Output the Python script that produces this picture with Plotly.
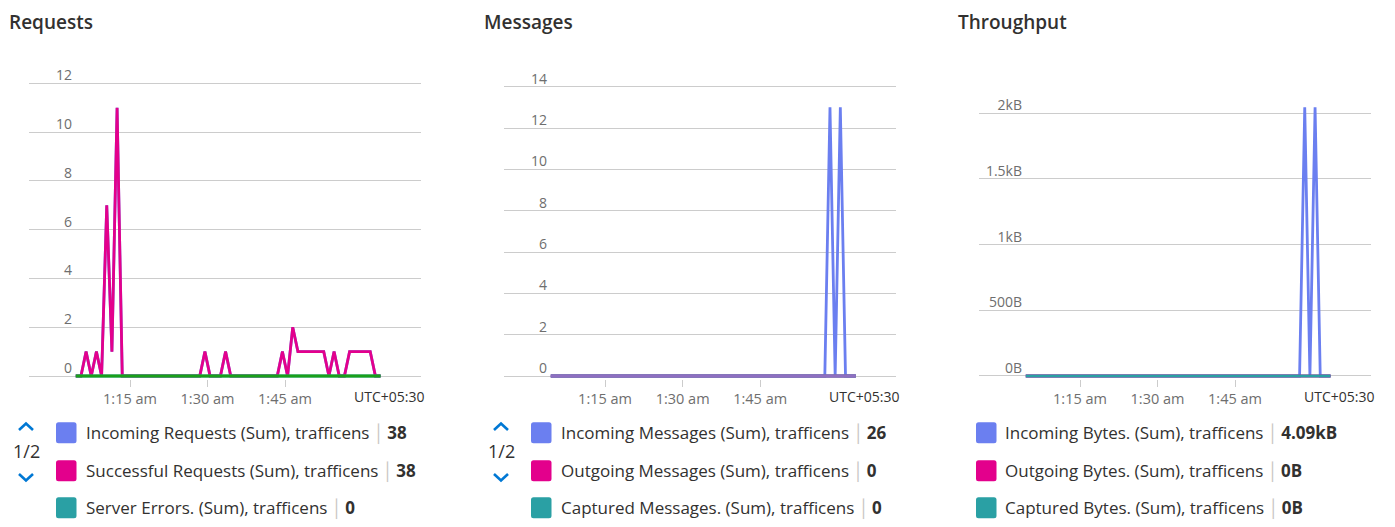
import plotly.graph_objects as go
import pandas as pd

W, H = 1395, 527

# ---------------- data ----------------
times = pd.date_range("2024-01-01 01:04:30", periods=60, freq="1min")

successful_requests = [0, 0, 1, 0, 1, 0, 7, 1, 11, 0,
                       0, 0, 0, 0, 0, 0, 0, 0, 0, 0,
                       0, 0, 0, 0, 0, 1, 0, 0, 0, 1,
                       0, 0, 0, 0, 0, 0, 0, 0, 0, 0,
                       1, 0, 2, 1, 1, 1, 1, 1, 1, 0,
                       1, 0, 0, 1, 1, 1, 1, 1, 0, 0]
incoming_requests = list(successful_requests)
server_errors = [0] * 60
user_errors = [0] * 60

incoming_messages = [0] * 54 + [13, 0, 13, 0, 0, 0]
outgoing_messages = [0] * 60
captured_messages = [0] * 60
other_messages = [0] * 60

incoming_bytes = [0] * 54 + [2045, 0, 2045, 0, 0, 0]
outgoing_bytes = [0] * 60
captured_bytes = [0] * 60

x_tick_times = ["2024-01-01 01:15", "2024-01-01 01:30", "2024-01-01 01:45"]
x_tick_text = ["1:15 am", "1:30 am", "1:45 am"]
x_range = ["2024-01-01 00:55:27", "2024-01-01 02:11:16"]

req_ticks = [0, 2, 4, 6, 8, 10, 12]
msg_ticks = [0, 2, 4, 6, 8, 10, 12, 14]
thr_ticks = [0, 500, 1000, 1500, 2000]
thr_tick_text = ["0B", "500B", "1kB", "1.5kB", "2kB"]

titles = ["Requests", "Messages", "Throughput"]
legend_names = [
    ["Incoming Requests (Sum), trafficens", "Successful Requests (Sum), trafficens", "Server Errors. (Sum), trafficens"],
    ["Incoming Messages (Sum), trafficens", "Outgoing Messages (Sum), trafficens", "Captured Messages. (Sum), trafficens"],
    ["Incoming Bytes. (Sum), trafficens", "Outgoing Bytes. (Sum), trafficens", "Captured Bytes. (Sum), trafficens"],
]
legend_values = [["38", "38", "0"], ["26", "0", "0"], ["4.09kB", "0B", "0B"]]

BLUE = "#6b7ff0"
PINK = "#e3008c"
TEAL = "#2aa0a4"
GREEN = "#1aa01a"
PURPLE = "#8f6fc1"
legend_colors = [BLUE, PINK, TEAL]

FONT = "Open Sans"
TEXT = "#323130"
TICK = "#6e6e6e"
GRID = "#cccccc"

# ---------------- geometry helpers ----------------
def px(x):
    return x / W

def py(y):
    return 1 - y / H

def ydomain(y0, s, lo, hi):
    # y0: pixel of value 0, s: pixels per unit
    return [py(y0 - lo * s), py(y0 - hi * s)]

panels = [
    dict(x0=29, x1=420.7, y0=376, s=(376 - 83.3) / 12, rng=[-0.12, 12.25]),
    dict(x0=504, x1=896, y0=376, s=(376 - 86.7) / 14, rng=[-0.145, 14.25]),
    dict(x0=979, x1=1370.7, y0=376, s=(376 - 113.3) / 2000, rng=[-22, 2120]),
]

fig = go.Figure()

series = [
    [(incoming_requests, BLUE), (successful_requests, PINK), (server_errors, TEAL), (user_errors, GREEN)],
    [(incoming_messages, BLUE), (outgoing_messages, PINK), (captured_messages, TEAL), (other_messages, PURPLE)],
    [(incoming_bytes, BLUE), (outgoing_bytes, PINK), (captured_bytes, TEAL)],
]

for i, lst in enumerate(series):
    suf = "" if i == 0 else str(i + 1)
    for vals, col in lst:
        fig.add_trace(go.Scatter(x=times, y=vals, mode="lines",
                                 line=dict(color=col, width=2.8),
                                 xaxis="x" + suf, yaxis="y" + suf,
                                 showlegend=False, hoverinfo="skip"))

layout_axes = {}
ytick_sets = [(req_ticks, [str(v) for v in req_ticks]),
              (msg_ticks, [str(v) for v in msg_ticks]),
              (thr_ticks, thr_tick_text)]
for i, p in enumerate(panels):
    suf = "" if i == 0 else str(i + 1)
    layout_axes["xaxis" + suf] = dict(
        type="date", domain=[px(p["x0"]), px(p["x1"])], range=x_range,
        anchor="y" + suf, showgrid=False, zeroline=False, showline=False,
        tickvals=x_tick_times, ticktext=x_tick_text,
        ticks="outside", ticklen=7, tickcolor=GRID, tickwidth=1,
        tickfont=dict(family=FONT, size=14.5, color=TICK),
        fixedrange=True, automargin=False,
    )
    tv, tt = ytick_sets[i]
    layout_axes["yaxis" + suf] = dict(
        domain=ydomain(p["y0"], p["s"], p["rng"][0], p["rng"][1]),
        range=p["rng"], anchor="x" + suf,
        tickvals=tv, ticktext=tt, showgrid=True, gridcolor=GRID, gridwidth=1,
        zeroline=False, showline=False, ticks="",
        ticklabelstandoff=-44, ticklabelshift=-8,
        tickfont=dict(family=FONT, size=14, color=TICK),
        fixedrange=True, automargin=False,
    )

annotations = []
shapes = []

title_x = [8, 483, 957]
for i, t in enumerate(titles):
    annotations.append(dict(text=t, x=px(title_x[i] - 1), y=py(22), xref="paper", yref="paper",
                            xanchor="left", yanchor="middle", showarrow=False,
                            font=dict(family=FONT, size=19, color=TEXT, weight=600)))

# UTC labels
for i, p in enumerate(panels):
    annotations.append(dict(text="UTC+05:30", x=px(p["x1"] + 5), y=py(396), xref="paper", yref="paper",
                            xanchor="right", yanchor="middle", showarrow=False,
                            font=dict(family=FONT, size=14, color=TEXT)))

# legends
swatch_x = [56, 531, 976]
text_x = [84, 559, 1003]
row_y = [432.7, 470.7, 507.7]
for i in range(3):
    for r in range(3):
        x0, x1 = swatch_x[i], swatch_x[i] + 20.5
        y0, y1 = row_y[r] - 10.5, row_y[r] + 10.5
        rx, ry = 2.5, 2.5
        d = (f"M {px(x0+rx)},{py(y0)} L {px(x1-rx)},{py(y0)} Q {px(x1)},{py(y0)} {px(x1)},{py(y0+ry)} "
             f"L {px(x1)},{py(y1-ry)} Q {px(x1)},{py(y1)} {px(x1-rx)},{py(y1)} "
             f"L {px(x0+rx)},{py(y1)} Q {px(x0)},{py(y1)} {px(x0)},{py(y1-ry)} "
             f"L {px(x0)},{py(y0+ry)} Q {px(x0)},{py(y0)} {px(x0+rx)},{py(y0)} Z")
        shapes.append(dict(type="path", path=d, xref="paper", yref="paper",
                           fillcolor=legend_colors[r], line=dict(width=0)))
        txt = (f"{legend_names[i][r]}\u2009<span style='color:#c8c6c4'>\u2502</span>\u2009"
               f"<b>{legend_values[i][r]}</b>")
        annotations.append(dict(text=txt, x=px(text_x[i]), y=py(row_y[r]), xref="paper", yref="paper",
                                xanchor="left", yanchor="middle", showarrow=False,
                                font=dict(family=FONT, size=17, color=TEXT)))

# pager ("1/2" with chevrons) for first two panels
pager_x = [26, 501]
for cx in pager_x:
    annotations.append(dict(text="1/2", x=px(cx), y=py(451), xref="paper", yref="paper",
                            xanchor="center", yanchor="middle", showarrow=False,
                            font=dict(family=FONT, size=18, color=TEXT)))
    up = f"M {px(cx-7)},{py(430)} L {px(cx)},{py(423.5)} L {px(cx+7)},{py(430)}"
    dn = f"M {px(cx-7)},{py(474)} L {px(cx)},{py(480.5)} L {px(cx+7)},{py(474)}"
    for d in (up, dn):
        shapes.append(dict(type="path", path=d, xref="paper", yref="paper",
                           line=dict(color="#0078d4", width=2.6)))

fig.update_layout(
    width=W, height=H, autosize=False,
    margin=dict(l=0, r=0, t=0, b=0, pad=0, autoexpand=False),
    paper_bgcolor="white", plot_bgcolor="white",
    showlegend=False,
    annotations=annotations, shapes=shapes,
    **layout_axes,
)

fig.write_html("out.html", config={"displayModeBar": False, "responsive": False})
